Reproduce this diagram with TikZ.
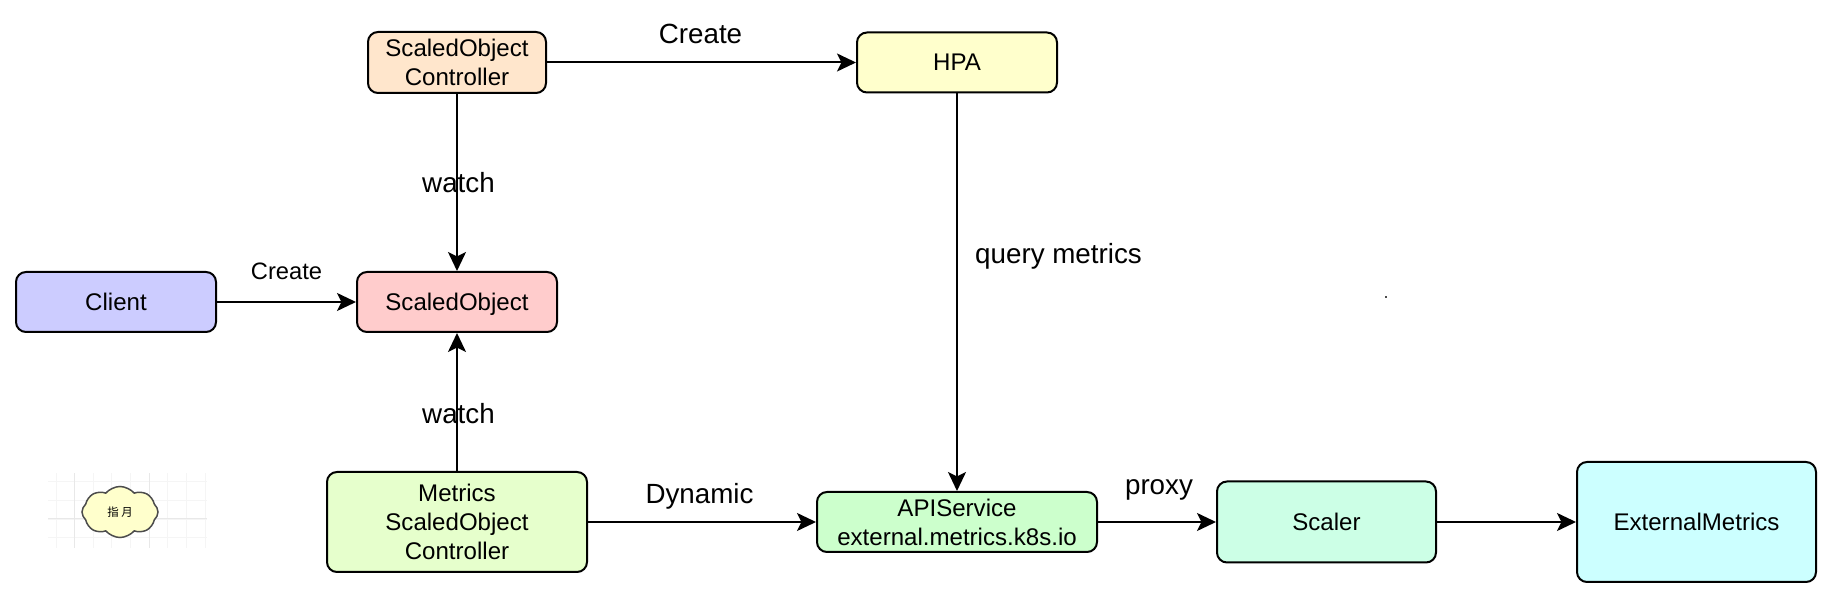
\documentclass[tikz,border=0pt]{standalone}
\usepackage{xcolor}
\usepackage{fontspec}
\setmainfont{Liberation Sans}
\newfontfamily\cjk{Noto Sans CJK SC}
\usetikzlibrary{arrows.meta, shapes.symbols}
\definecolor{boxOrange}{RGB}{255, 230, 204}
\definecolor{boxYellow}{RGB}{255, 255, 204}
\definecolor{boxBlue}{RGB}{204, 204, 255}
\definecolor{boxRed}{RGB}{255, 204, 204}
\definecolor{boxLime}{RGB}{230, 255, 204}
\definecolor{boxGreen}{RGB}{204, 255, 204}
\definecolor{boxMint}{RGB}{204, 255, 230}
\definecolor{boxCyan}{RGB}{204, 255, 255}

\begin{document}
\begin{tikzpicture}[
    component/.style={rectangle, rounded corners=0.2cm, draw=black, line width=0.04cm, text=black, align=center, font=\fontsize{13.7}{16.4}\selectfont, inner sep=0pt},
    flow/.style={-{Stealth[length=0.38cm, width=0.36cm, inset=0.09cm]}, line width=0.04cm, black},
    edgetext/.style={font=\fontsize{15.8}{18}\selectfont, inner sep=0pt}
]
    \useasboundingbox (0,0) rectangle (36.68,11.98);

    % faint grid behind the cloud
    \foreach \i in {0,...,8} {
        \draw[black!4, line width=0.02cm] ({1.12+0.373*\i},1.02) -- ({1.12+0.373*\i},2.52);
    }
    \foreach \j in {0,...,3} {
        \draw[black!4, line width=0.02cm] (0.96,{1.22+0.375*\j}) -- (4.14,{1.22+0.375*\j});
    }
    \draw[black!9, line width=0.02cm] (1.49,1.02) -- (1.49,2.52);
    \draw[black!9, line width=0.02cm] (2.98,1.02) -- (2.98,2.52);
    \draw[black!9, line width=0.02cm] (0.96,1.6) -- (4.14,1.6);

    \node[component, fill=boxOrange, minimum width=3.56cm, minimum height=1.22cm] (controller) at (9.14,10.73) {ScaledObject\\Controller};
    \node[component, fill=boxYellow, minimum width=4cm, minimum height=1.2cm] (hpa) at (19.14,10.73) {HPA};
    \node[component, fill=boxBlue, minimum width=4cm, minimum height=1.2cm] (client) at (2.32,5.94) {Client};
    \node[component, fill=boxRed, minimum width=4cm, minimum height=1.2cm, text depth=0pt] (scaledobject) at (9.14,5.94) {ScaledObject};
    \node[component, fill=boxLime, minimum width=5.2cm, minimum height=2cm] (metrics) at (9.14,1.54) {Metrics\\ScaledObject\\Controller};
    \node[component, fill=boxGreen, minimum width=5.6cm, minimum height=1.2cm] (apiservice) at (19.14,1.54) {APIService\\external.metrics.k8s.io};
    \node[component, fill=boxMint, minimum width=4.38cm, minimum height=1.62cm] (scaler) at (26.53,1.54) {Scaler};
    \node[component, fill=boxCyan, minimum width=4.78cm, minimum height=2.4cm] (external) at (33.93,1.54) {ExternalMetrics};

    \node[cloud, cloud puffs=8, cloud puff arc=100, aspect=1.5, draw=black!70, line width=0.03cm, fill=boxYellow, minimum width=1.52cm, minimum height=1.02cm, inner sep=0pt, font=\cjk\fontsize{6.5}{7}\selectfont] (logo) at (2.4,1.74) {指 月};

    \draw[flow] (controller) -- (hpa);
    \draw[flow] (controller) -- (scaledobject);
    \draw[flow] (client) -- (scaledobject);
    \draw[flow] (metrics) -- (scaledobject);
    \draw[flow] (hpa) -- (apiservice);
    \draw[flow] (metrics) -- (apiservice);
    \draw[flow] (apiservice) -- (scaler);
    \draw[flow] (scaler) -- (external);

    \node[edgetext] (createhpa) at (14.01,11.3) {Create};
    \node[edgetext, font=\fontsize{13.5}{16}\selectfont] (createso) at (5.73,6.56) {Create};
    \node[edgetext] (watchup) at (9.17,8.33) {watch};
    \node[edgetext] (watchdown) at (9.17,3.7) {watch};
    \node[edgetext] (query) at (21.17,6.86) {query metrics};
    \node[edgetext] (dynamic) at (13.99,2.06) {Dynamic};
    \node[edgetext] (proxy) at (23.18,2.19) {proxy};

    \fill[black!70] (27.69,6.06) rectangle (27.73,6.02);
\end{tikzpicture}
\end{document}
